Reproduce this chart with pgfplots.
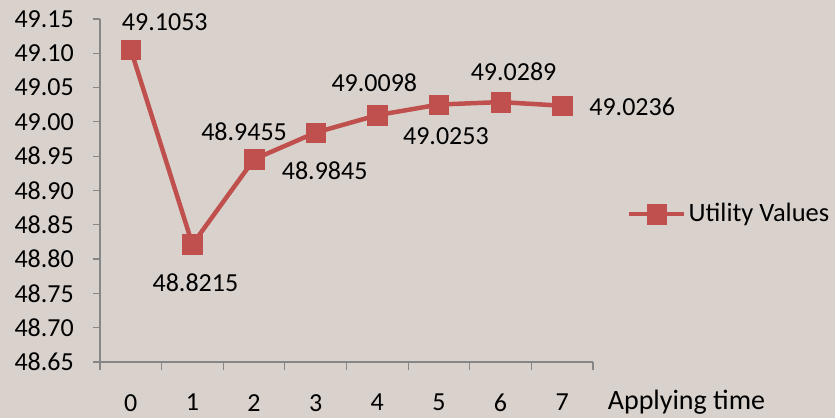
\documentclass[border=0pt]{standalone}
\usepackage{pgfplots}
\pgfplotsset{compat=1.18}
\usepackage{fontspec}
\setmainfont{Carlito}
\definecolor{bgc}{RGB}{217,210,204}
\definecolor{ser}{RGB}{192,80,77}
\definecolor{axc}{RGB}{134,134,134}
\begin{document}
\fontsize{26bp}{30bp}\selectfont
\begin{tikzpicture}
\fill[bgc] (0,0) rectangle (835bp,418bp);
\useasboundingbox (0,0) rectangle (835bp,418bp);
\begin{axis}[
  at={(100bp,56bp)}, anchor=south west,
  scale only axis, width=493bp, height=343bp,
  xmin=-0.5, xmax=7.5, ymin=48.65, ymax=49.15,
  axis x line*=bottom, axis y line*=left,
  axis line style={axc, line width=1.2bp, -},
  xtick={0,...,7}, major x tick style={draw=none},
  minor xtick={-0.5,0.5,...,7.5},
  ytick={48.65,48.70,...,49.16},
  yticklabels={},
  tick align=outside,
  minor tick length=8bp, major tick length=7bp,
  tick style={axc, line width=1.2bp},
  minor tick style={axc, line width=1.2bp},
  /pgf/number format/assume math mode=true,
  ticklabel style={font=\fontsize{26bp}{30bp}\selectfont},
  xticklabel style={inner sep=1bp, yshift=-24bp},
  legend style={at={(1,0.431)}, anchor=west, xshift=34bp, draw=none, fill=none,
    font=\fontsize{26.5bp}{30bp}\selectfont, inner sep=0pt},
  legend image code/.code={
    \draw[#1, mark=none] (0bp,0bp) -- (55bp,0bp);
    \draw[#1, only marks] plot coordinates {(27.5bp,0bp)};
  },
  clip=false,
]
\addplot[ser, line width=4.5bp, mark=square*, mark size=9.7bp,
  mark options={fill=ser, draw=ser, line width=0.5bp}]
  coordinates {(0,49.1053) (1,48.8215) (2,48.9455) (3,48.9845) (4,49.0098) (5,49.0253) (6,49.0289) (7,49.0236)};
\addlegendentry{Utility Values}
\pgfplotsinvokeforeach{48.65,48.70,48.75,48.80,48.85,48.90,48.95,49.00,49.05,49.10,49.15}{
  \node[anchor=east, inner sep=0pt] at ([xshift=-26bp]axis cs:-0.5,#1) {#1};
}
\node at ([xshift=34bp, yshift=27bp]axis cs:0,49.1053) {49.1053};
\node at ([xshift=3bp, yshift=-38bp]axis cs:1,48.8215) {48.8215};
\node at ([xshift=-10bp, yshift=28bp]axis cs:2,48.9455) {48.9455};
\node at ([xshift=9bp, yshift=-38bp]axis cs:3,48.9845) {48.9845};
\node at ([xshift=-3bp, yshift=32bp]axis cs:4,49.0098) {49.0098};
\node at ([xshift=7bp, yshift=-32bp]axis cs:5,49.0253) {49.0253};
\node at ([xshift=13bp, yshift=30bp]axis cs:6,49.0289) {49.0289};
\node at ([xshift=70bp, yshift=-1bp]axis cs:7,49.0236) {49.0236};
\node[anchor=west, font=\fontsize{28bp}{32bp}\selectfont] at ([xshift=6bp, yshift=-40bp]axis cs:7.5,48.65) {Applying time};
\end{axis}
\end{tikzpicture}
\end{document}
